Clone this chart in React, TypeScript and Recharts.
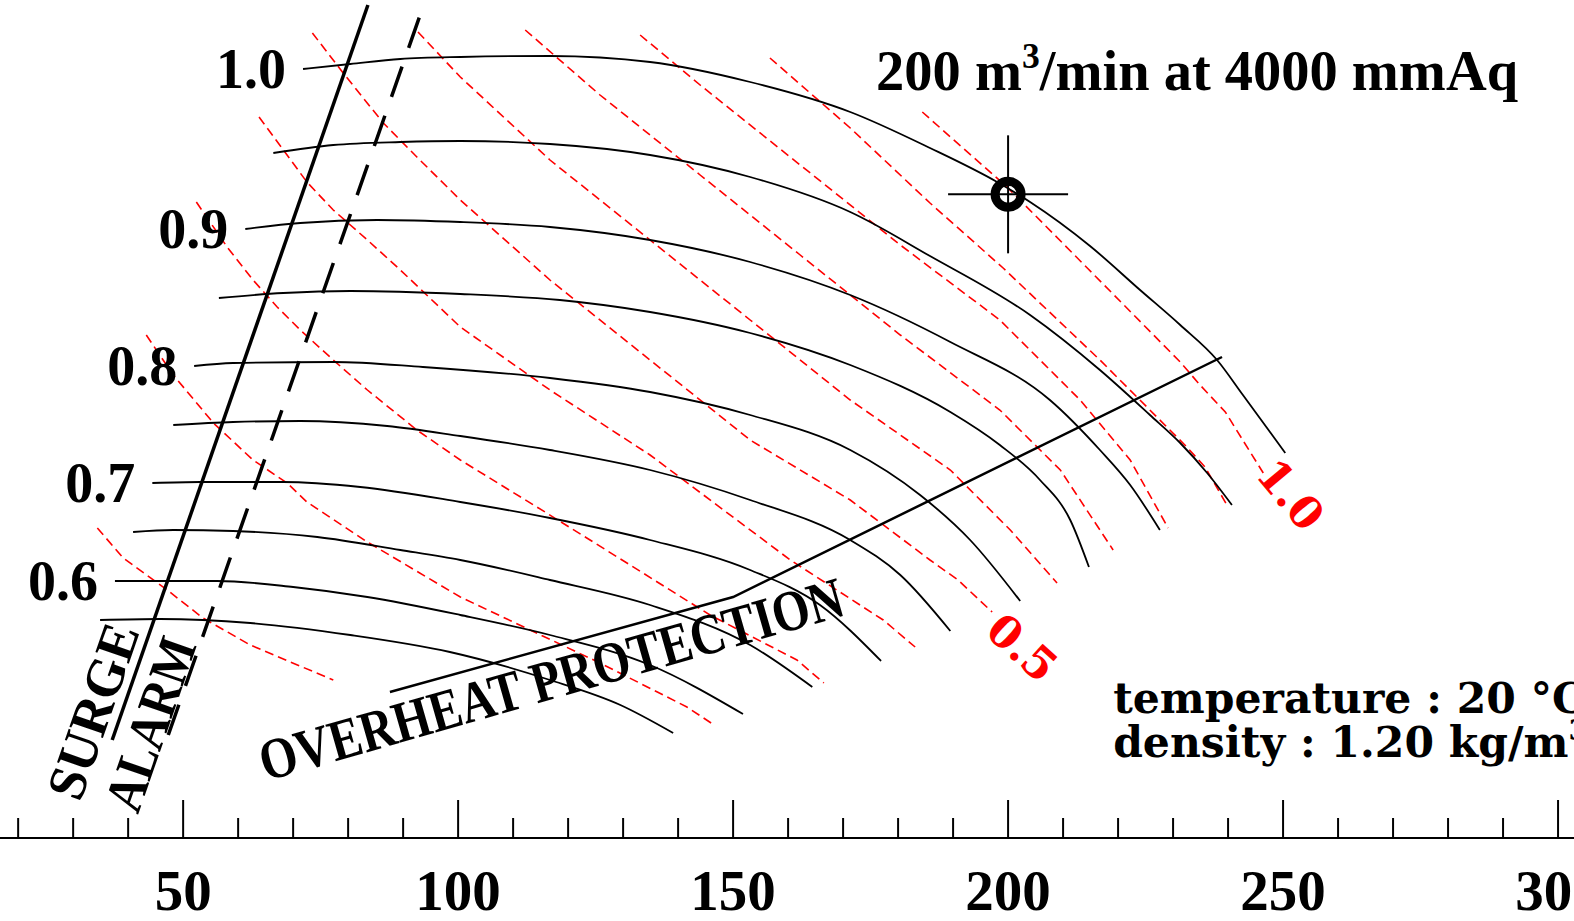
import { LineChart, Line, XAxis, YAxis, ReferenceDot } from "recharts";

// Fan performance map: flow (m³/min) vs static pressure (mmAq, axis hidden).
// Black = speed lines, red dashed = shaft power ratio lines.

const BOLD_SERIF = "'Liberation Serif', 'Times New Roman', serif";
const WIDE_SERIF = "'DejaVu Serif', serif";

const X_DOMAIN: [number, number] = [16.7, 302.9];
const Y_DOMAIN: [number, number] = [138, 5166];
const X_TICKS = [20, 30, 40, 50, 60, 70, 80, 90, 100, 110, 120, 130, 140, 150, 160, 170, 180, 190, 200, 210, 220, 230, 240, 250, 260, 270, 280, 290, 300];
const X_LABELS = [50, 100, 150, 200, 250, 300];

type Pt = [number, number];
const toRows = (pts: Pt[]) => pts.map(([q, p]) => ({ q, p }));

// speed lines (ratio to rated rpm)
const N100: Pt[] = [[71.8, 4752], [80.4, 4782], [89.5, 4812], [100.4, 4824], [116.7, 4830], [134.9, 4794], [153.1, 4674], [171.3, 4494], [185.8, 4278], [198.0, 4074], [204.0, 3954], [214.9, 3690], [224.0, 3426], [231.3, 3216], [238.0, 3006], [242.7, 2796], [250.4, 2448]];
const N95: Pt[] = [[66.4, 4248], [77.3, 4296], [89.5, 4314], [100.4, 4320], [116.7, 4302], [134.9, 4236], [153.1, 4104], [171.3, 3894], [185.8, 3630], [204.0, 3276], [216.7, 2946], [225.8, 2676], [231.3, 2508], [236.2, 2328], [240.7, 2136]];
const N90: Pt[] = [[61.3, 3792], [71.3, 3828], [85.3, 3846], [100.4, 3834], [116.7, 3804], [134.9, 3726], [153.1, 3594], [171.3, 3396], [189.5, 3114], [207.6, 2766], [216.7, 2466], [222.2, 2256], [227.6, 1986]];
const N85: Pt[] = [[56.5, 3378], [68.2, 3408], [80.4, 3420], [100.4, 3402], [118.5, 3366], [134.9, 3294], [153.1, 3168], [171.3, 2976], [189.5, 2694], [198.5, 2496], [205.8, 2286], [211.3, 2046], [214.7, 1764]];
const N80: Pt[] = [[52.0, 2970], [59.1, 2988], [77.3, 2994], [93.6, 2964], [116.7, 2898], [134.9, 2814], [153.1, 2676], [171.3, 2466], [184.0, 2196], [193.1, 1926], [202.2, 1560]];
const N75: Pt[] = [[48.2, 2616], [59.1, 2634], [71.3, 2640], [87.1, 2610], [100.4, 2550], [116.7, 2466], [134.9, 2346], [153.1, 2166], [171.3, 1926], [180.4, 1716], [189.5, 1380]];
const N70: Pt[] = [[44.4, 2268], [53.1, 2274], [68.2, 2274], [82.2, 2244], [100.4, 2154], [116.7, 2058], [134.9, 1926], [153.1, 1746], [165.8, 1536], [176.9, 1200]];
const N65: Pt[] = [[40.9, 1974], [48.2, 1986], [59.1, 1980], [74.4, 1944], [89.5, 1866], [100.4, 1806], [116.7, 1686], [134.9, 1536], [153.1, 1296], [164.4, 1044]];
const N60: Pt[] = [[37.6, 1680], [56.2, 1680], [70.0, 1644], [83.5, 1584], [100.4, 1476], [116.7, 1356], [134.9, 1176], [151.8, 882]];
const N55: Pt[] = [[34.9, 1446], [45.8, 1452], [62.2, 1428], [80.4, 1356], [98.5, 1254], [116.7, 1086], [129.5, 936], [139.1, 768]];
const SPEED_CURVES = [N100, N95, N90, N85, N80, N75, N70, N65, N60, N55];
// labelled at the left end of every other speed line
const SPEED_LABELS = ["1.0", "", "0.9", "", "0.8", "", "0.7", "", "0.6", ""];

// shaft power ratio lines 0.1 .. 1.0
const W01: Pt[] = [[34.4, 1998], [39.1, 1818], [47.1, 1626], [53.6, 1458], [62.2, 1296], [69.5, 1194], [77.3, 1086]];
const W02: Pt[] = [[43.3, 3156], [48.2, 2916], [55.5, 2628], [62.7, 2406], [68.9, 2268], [72.5, 2154], [83.5, 1914], [100.4, 1584], [125.8, 1188], [141.6, 924], [146.0, 828]];
const W03: Pt[] = [[52.4, 3954], [58.0, 3684], [62.7, 3486], [67.1, 3324], [71.3, 3186], [77.3, 3006], [83.5, 2826], [92.5, 2586], [100.4, 2406], [115.8, 2094], [130.7, 1788], [145.8, 1476], [161.6, 1206], [166.5, 1068]];
const W04: Pt[] = [[63.8, 4464], [72.5, 4074], [77.3, 3906], [83.5, 3726], [89.5, 3546], [100.4, 3204], [116.7, 2826], [134.9, 2436], [160.4, 1806], [177.3, 1446], [183.1, 1284]];
const W05: Pt[] = [[73.5, 4968], [79.1, 4728], [86.4, 4428], [92.5, 4224], [100.4, 3966], [116.7, 3486], [134.9, 3006], [153.1, 2526], [171.3, 2166], [185.8, 1806], [190.9, 1686], [197.1, 1494]];
const W06: Pt[] = [[92.7, 4974], [100.4, 4704], [116.7, 4206], [134.9, 3726], [153.1, 3246], [171.3, 2766], [189.5, 2346], [200.4, 1986], [208.9, 1668]];
const W07: Pt[] = [[112.2, 4986], [125.8, 4596], [144.0, 4116], [162.2, 3636], [180.4, 3156], [198.5, 2706], [209.5, 2346], [219.1, 1866]];
const W08: Pt[] = [[133.1, 4956], [144.0, 4656], [162.2, 4176], [180.4, 3696], [198.5, 3246], [213.1, 2766], [222.2, 2406], [229.1, 1998]];
const W09: Pt[] = [[156.7, 4818], [171.3, 4398], [185.8, 3948], [199.1, 3558], [216.7, 3006], [232.5, 2484], [235.8, 2364], [240.0, 2124]];
const W10: Pt[] = [[184.4, 4494], [199.8, 4044], [214.4, 3558], [231.3, 2994], [234.9, 2856], [239.5, 2694], [246.4, 2328]];
const POWER_CURVES = [W01, W02, W03, W04, W05, W06, W07, W08, W09, W10];

const SURGE_LINE: Pt[] = [[37.1, 726], [83.6, 5136]];
const SURGE_ALARM: Pt[] = [[47.3, 756], [93.6, 5124]];
const OVERHEAT_LINE: Pt[] = [[87.6, 1014], [150.0, 1584], [238.9, 3024]];

const DESIGN_POINT = { q: 200, p: 4000 };

type Note = {
  q: number; p: number; text: string; size: number; angle?: number;
  color?: string; font?: string; anchor?: "start" | "middle" | "end"; length?: number;
};
const NOTES: Note[] = [
  { q: 33.6, p: 900, text: "SURGE", size: 54, angle: -70.8, length: 182 },
  { q: 44.0, p: 822, text: "ALARM", size: 54, angle: -70.8, length: 180 },
  { q: 116.9, p: 1092, text: "OVERHEAT PROTECTION", size: 58, angle: -16, length: 605 },
  { q: 202.5, p: 1278, text: "0.5", size: 44, angle: 42, color: "#ff0000", font: WIDE_SERIF },
  { q: 251.3, p: 2196, text: "1.0", size: 44, angle: 50, color: "#ff0000", font: WIDE_SERIF },
  { q: 219.1, p: 888, text: "temperature : 20 °C", size: 42.5, anchor: "start", font: WIDE_SERIF },
];

function noteShape(n: Note) {
  return (props: any) => {
    const { cx, cy } = props;
    const anchor = n.anchor ?? "middle";
    return (
      <text
        x={cx}
        y={cy}
        dy={anchor === "middle" ? "0.34em" : 0}
        textAnchor={anchor}
        transform={n.angle ? `rotate(${n.angle} ${cx} ${cy})` : undefined}
        fontFamily={n.font ?? BOLD_SERIF}
        fontWeight="bold"
        fontSize={n.size}
        fill={n.color ?? "#000"}
        textLength={n.length}
        lengthAdjust={n.length ? "spacingAndGlyphs" : undefined}
      >
        {n.text}
      </text>
    );
  };
}

const titleShape = (props: any) => (
  <text x={props.cx} y={props.cy} fontFamily={BOLD_SERIF} fontWeight="bold" fontSize={57} fill="#000" textLength={642} lengthAdjust="spacingAndGlyphs">
    <tspan>200 m</tspan>
    <tspan dy={-22} fontSize={36}>3</tspan>
    <tspan dy={22}>/min at 4000 mmAq</tspan>
  </text>
);

const densityShape = (props: any) => (
  <text x={props.cx} y={props.cy} fontFamily={WIDE_SERIF} fontWeight="bold" fontSize={42.5} fill="#000">
    <tspan>density : 1.20 kg/m</tspan>
    <tspan dy={-17} fontSize={28}>3</tspan>
  </text>
);

const designShape = (props: any) => {
  const { cx, cy } = props;
  return (
    <g>
      <line x1={cx - 60} x2={cx + 60} y1={cy} y2={cy} stroke="#000" strokeWidth={2} />
      <line x1={cx} x2={cx} y1={cy - 59} y2={cy + 59} stroke="#000" strokeWidth={2} />
      <circle cx={cx} cy={cy} r={13} fill="none" stroke="#000" strokeWidth={9} />
    </g>
  );
};

const speedLabelShape = (text: string) => (props: any) => (
  <text x={props.cx - 17} y={props.cy} dy="0.34em" textAnchor="end" fontFamily={BOLD_SERIF} fontWeight="bold" fontSize={56} fill="#000">
    {text}
  </text>
);

function FlowTick(props: any) {
  const { x, y, payload } = props;
  const major = X_LABELS.includes(payload.value);
  return (
    <g>
      <line x1={x} x2={x} y1={y} y2={y - (major ? 38 : 20)} stroke="#000" strokeWidth={2} />
      {major && (
        <text x={x} y={y + 72} textAnchor="middle" fontFamily={BOLD_SERIF} fontWeight="bold" fontSize={57} fill="#000">
          {payload.value}
        </text>
      )}
    </g>
  );
}

export default function App() {
  return (
    <div style={{ width: 1574, height: 921, background: "#fff" }}>
      <style>{`body { margin: 0; }`}</style>
      <LineChart width={1574} height={921} margin={{ top: 0, right: 0, bottom: 0, left: 0 }}>
        <XAxis
          type="number"
          dataKey="q"
          domain={X_DOMAIN}
          ticks={X_TICKS}
          interval={0}
          allowDataOverflow
          height={83}
          axisLine={{ stroke: "#000", strokeWidth: 2 }}
          tickLine={false}
          tickSize={0}
          tickMargin={0}
          tick={<FlowTick />}
        />
        <YAxis type="number" dataKey="p" domain={Y_DOMAIN} allowDataOverflow hide />

        {POWER_CURVES.map((c, i) => (
          <Line
            key={`w${i}`}
            data={toRows(c)}
            dataKey="p"
            type="linear"
            stroke="#ff0000"
            strokeWidth={1.6}
            strokeDasharray="9 5"
            dot={false}
            activeDot={false}
            isAnimationActive={false}
          />
        ))}
        {SPEED_CURVES.map((c, i) => (
          <Line
            key={`n${i}`}
            data={toRows(c)}
            dataKey="p"
            type="monotone"
            stroke="#000"
            strokeWidth={1.8}
            dot={false}
            activeDot={false}
            isAnimationActive={false}
          />
        ))}
        <Line data={toRows(SURGE_LINE)} dataKey="p" type="linear" stroke="#000" strokeWidth={3.5} dot={false} activeDot={false} isAnimationActive={false} />
        <Line data={toRows(SURGE_ALARM)} dataKey="p" type="linear" stroke="#000" strokeWidth={3.5} strokeDasharray="32 20" dot={false} activeDot={false} isAnimationActive={false} />
        <Line data={toRows(OVERHEAT_LINE)} dataKey="p" type="linear" stroke="#000" strokeWidth={2.5} dot={false} activeDot={false} isAnimationActive={false} />

        {SPEED_CURVES.map((c, i) =>
          SPEED_LABELS[i] ? (
            <ReferenceDot key={`sl${i}`} x={c[0][0]} y={c[0][1]} shape={speedLabelShape(SPEED_LABELS[i])} />
          ) : null
        )}
        <ReferenceDot x={DESIGN_POINT.q} y={DESIGN_POINT.p} shape={designShape} />
        <ReferenceDot x={176.0} y={4626} shape={titleShape} />
        <ReferenceDot x={219.1} y={624} shape={densityShape} />
        {NOTES.map((n, i) => (
          <ReferenceDot key={`note${i}`} x={n.q} y={n.p} shape={noteShape(n)} />
        ))}
      </LineChart>
    </div>
  );
}
